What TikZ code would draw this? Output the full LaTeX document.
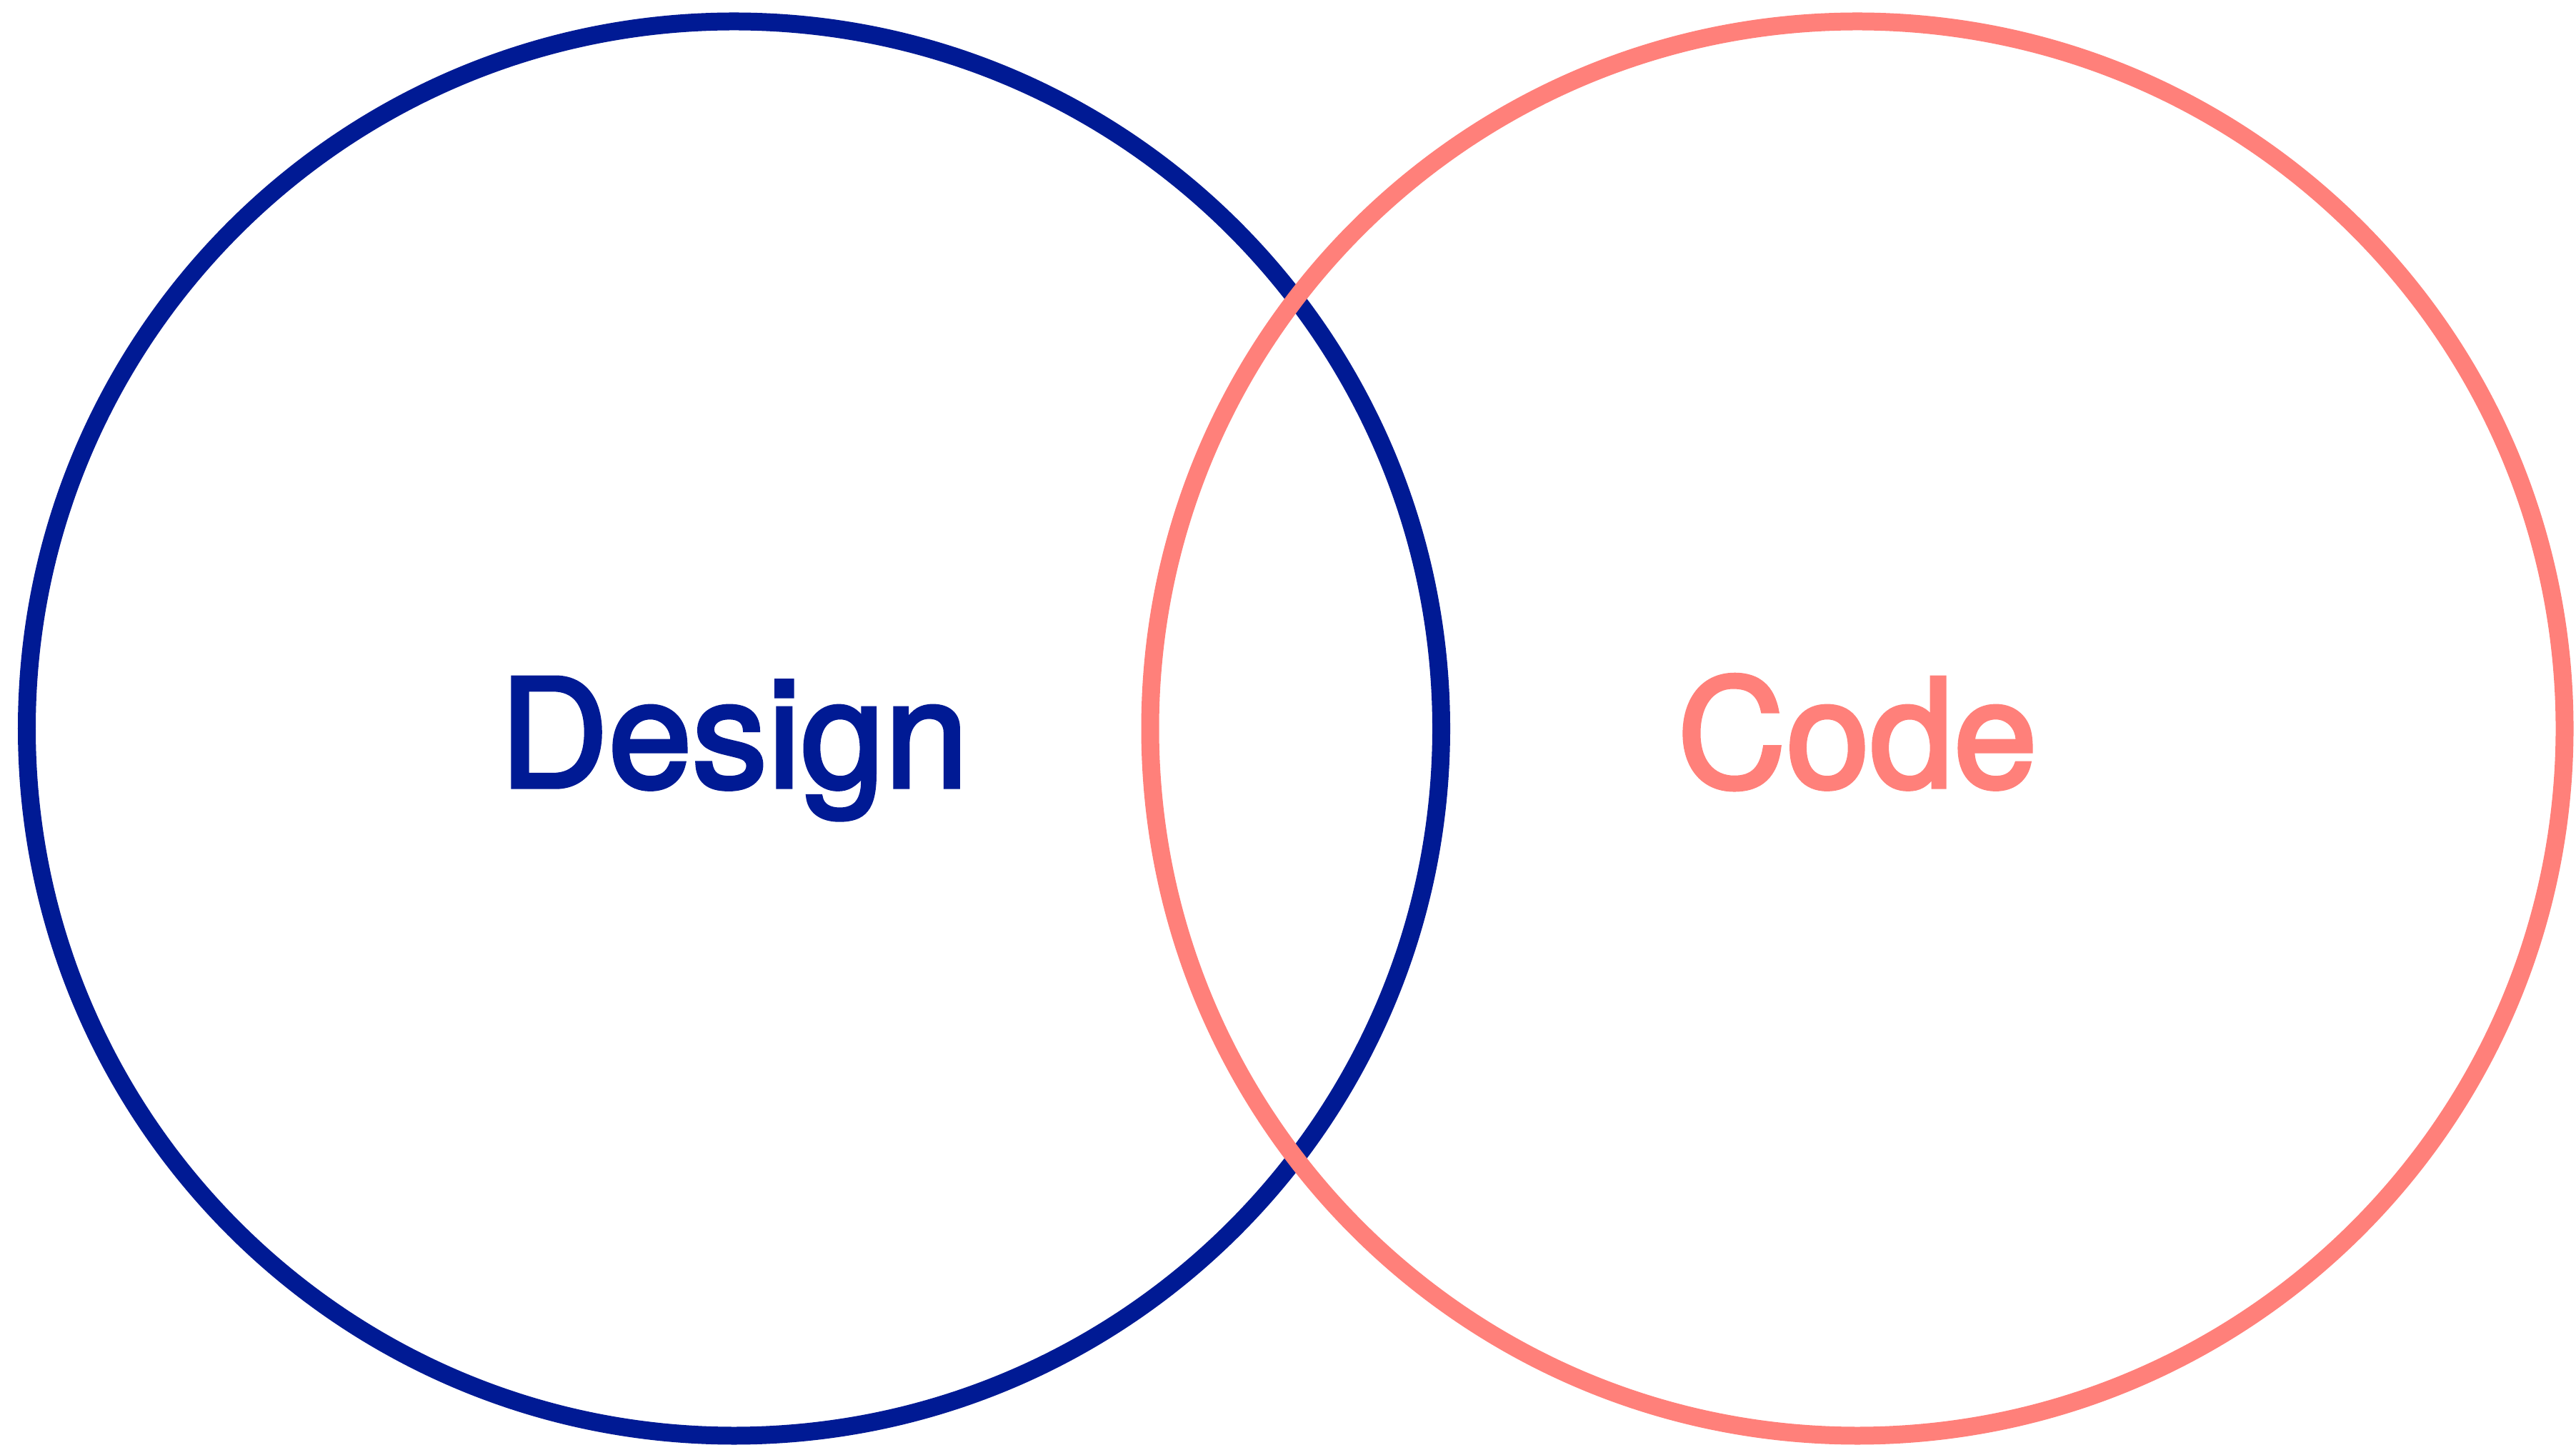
\documentclass[tikz,border=0pt]{standalone}
\usepackage{fontspec}
\setmainfont{TeX Gyre Heros}
\newfontfamily\setnamefont{TeX Gyre Heros}[FakeBold=2.6]
\usepackage{xcolor}
\usetikzlibrary{positioning,calc}

\definecolor{designblue}{RGB}{0,26,148}
\definecolor{codepink}{RGB}{255,128,122}

\tikzset{
  setring/.style={circle, draw, line width=0.25cm, minimum size=19.8cm, inner sep=0pt, outer sep=0pt},
  setlabel/.style={anchor=base, font=\setnamefont\fontsize{60}{72}\selectfont, inner sep=0pt}
}

\begin{document}
\begin{tikzpicture}
        \useasboundingbox (0,0) rectangle (36.06,20.29);

        % Two overlapping sets
        \node[setring, designblue] (design) at (10.275,10.09) {};
        \node[setring, codepink] (code) at (26.00,10.09) {};

        % Set names
        \node[setlabel, designblue] (designlabel) at ($(design.center)+(0,-0.82)$) {Design};
        \node[setlabel, codepink] (codelabel) at ($(code.center)+(0,-0.82)$) {Code};
      \end{tikzpicture}
\end{document}
